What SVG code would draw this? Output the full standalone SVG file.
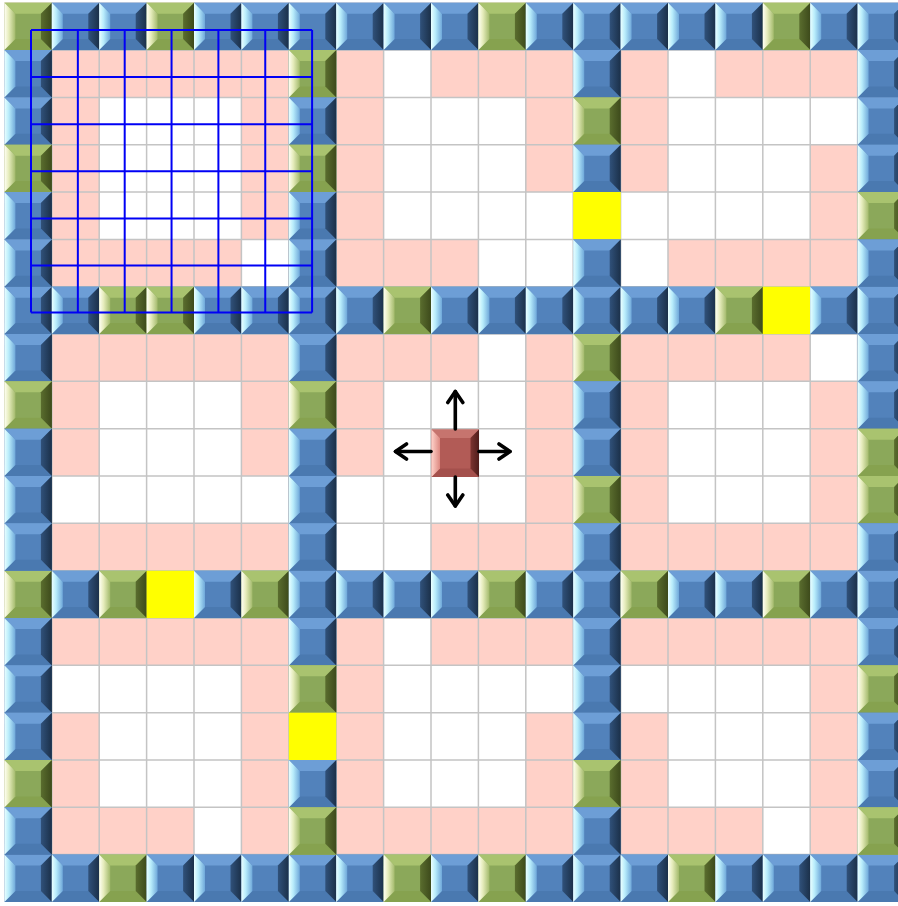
<svg xmlns="http://www.w3.org/2000/svg" width="898" height="906" viewBox="0 0 898 906">
<style>
.grid{fill:none;stroke:#c4c4c4;stroke-width:1.5}
.wh{fill:#ffffff}
.ov{fill:none;stroke:#0000f5;stroke-width:2}
.arr{fill:none;stroke:#000;stroke-width:3.6;stroke-linecap:round;marker-end:url(#ah)}
.yl{fill:#ffff00}
</style>
<defs>
<linearGradient id="gBl" x1="0" y1="0" x2="1" y2="0"><stop offset="0" stop-color="#eaffff"/><stop offset="0.4" stop-color="#b8ecfb"/><stop offset="1" stop-color="#6fa8da"/></linearGradient>
<linearGradient id="gBr" x1="0" y1="0" x2="1" y2="0"><stop offset="0" stop-color="#30517a"/><stop offset="1" stop-color="#1b3049"/></linearGradient>
<linearGradient id="gGl" x1="0" y1="0" x2="1" y2="0"><stop offset="0" stop-color="#fffff4"/><stop offset="0.4" stop-color="#e6ecbc"/><stop offset="1" stop-color="#a3ba6c"/></linearGradient>
<linearGradient id="gGr" x1="0" y1="0" x2="1" y2="0"><stop offset="0" stop-color="#5a6d2e"/><stop offset="1" stop-color="#3d4a1b"/></linearGradient>
<linearGradient id="gRl" x1="0" y1="0" x2="1" y2="0"><stop offset="0" stop-color="#ffd2ca"/><stop offset="1" stop-color="#dc8880"/></linearGradient>
<linearGradient id="gRr" x1="0" y1="0" x2="1" y2="0"><stop offset="0" stop-color="#7c3430"/><stop offset="1" stop-color="#4e1d1b"/></linearGradient>
<g id="tB">
<rect width="47.5" height="47.4" fill="#5282bb"/>
<polygon points="0,0 47.5,0 36.5,11 11,11" fill="#6d9ed6"/>
<polygon points="0,47.4 11,36.4 36.5,36.4 47.5,47.4" fill="#4a79b0"/>
<polygon points="0,0 11,11 11,36.4 0,47.4" fill="url(#gBl)"/>
<polygon points="47.5,0 47.5,47.4 36.5,36.4 36.5,11" fill="url(#gBr)"/>
</g>
<g id="tG">
<rect width="47.5" height="47.4" fill="#8ba85a"/>
<polygon points="0,0 47.5,0 36.5,11 11,11" fill="#a9c36f"/>
<polygon points="0,47.4 11,36.4 36.5,36.4 47.5,47.4" fill="#86a24f"/>
<polygon points="0,0 11,11 11,36.4 0,47.4" fill="url(#gGl)"/>
<polygon points="47.5,0 47.5,47.4 36.5,36.4 36.5,11" fill="url(#gGr)"/>
</g>
<g id="tY"><rect width="47.5" height="47.4" class="yl"/></g>
<marker id="ah" markerUnits="userSpaceOnUse" viewBox="-14 -10 18 20" refX="0" refY="0" markerWidth="18" markerHeight="20" orient="auto">
<path d="M-11,-7.5 L0,0 L-11,7.5" fill="none" stroke="#000" stroke-width="3.6" stroke-linecap="round" stroke-linejoin="round"/>
</marker>
</defs>
<rect x="0" y="0" width="898" height="906" fill="#ffffff"/>
<g id="floor">
<rect x="4.4" y="2.7" width="900" height="899.3" fill="#ffd1c8"/>
<g id="room-top-left">
<rect class="wh" x="99.2" y="97.4" width="142.2" height="142"/>
<rect class="wh" x="241.4" y="239.4" width="47.4" height="47.3"/>
</g>
<g id="room-top-middle">
<rect class="wh" x="383.6" y="50" width="47.4" height="47.4"/>
<rect class="wh" x="383.6" y="97.4" width="142.2" height="94.6"/>
<rect class="wh" x="383.6" y="192" width="189.6" height="47.4"/>
<rect class="wh" x="478.4" y="239.4" width="94.8" height="47.3"/>
</g>
<g id="room-top-right">
<rect class="wh" x="668" y="50" width="47.4" height="47.4"/>
<rect class="wh" x="668" y="97.4" width="189.6" height="47.3"/>
<rect class="wh" x="668" y="144.7" width="142.2" height="47.3"/>
<rect class="wh" x="620.6" y="192" width="189.6" height="47.4"/>
<rect class="wh" x="620.6" y="239.4" width="47.4" height="47.3"/>
</g>
<g id="room-middle-left">
<rect class="wh" x="99.2" y="381.3" width="142.2" height="94.7"/>
<rect class="wh" x="51.8" y="476" width="237" height="47.3"/>
</g>
<g id="room-centre">
<rect class="wh" x="478.4" y="334" width="47.4" height="47.3"/>
<rect class="wh" x="383.6" y="381.3" width="142.2" height="94.7"/>
<rect class="wh" x="336.2" y="476" width="189.6" height="47.3"/>
<rect class="wh" x="336.2" y="523.3" width="94.8" height="47.4"/>
</g>
<g id="room-middle-right">
<rect class="wh" x="810.2" y="334" width="47.4" height="47.3"/>
<rect class="wh" x="668" y="381.3" width="142.2" height="142"/>
</g>
<g id="room-bottom-left">
<rect class="wh" x="51.8" y="665.3" width="189.6" height="47.4"/>
<rect class="wh" x="99.2" y="712.7" width="142.2" height="94.6"/>
<rect class="wh" x="194" y="807.3" width="47.4" height="47.3"/>
</g>
<g id="room-bottom-middle">
<rect class="wh" x="383.6" y="618" width="47.4" height="47.3"/>
<rect class="wh" x="383.6" y="665.3" width="189.6" height="47.4"/>
<rect class="wh" x="383.6" y="712.7" width="142.2" height="94.6"/>
</g>
<g id="room-bottom-right">
<rect class="wh" x="620.6" y="665.3" width="189.6" height="47.4"/>
<rect class="wh" x="668" y="712.7" width="142.2" height="94.6"/>
<rect class="wh" x="762.8" y="807.3" width="47.4" height="47.3"/>
</g>
<path class="grid" d="M51.8,2.7V902M99.2,2.7V902M146.6,2.7V902M194,2.7V902M241.4,2.7V902M288.8,2.7V902M336.2,2.7V902M383.6,2.7V902M431,2.7V902M478.4,2.7V902M525.8,2.7V902M573.2,2.7V902M620.6,2.7V902M668,2.7V902M715.4,2.7V902M762.8,2.7V902M810.2,2.7V902M857.6,2.7V902M4.4,50H898M4.4,97.4H898M4.4,144.7H898M4.4,192H898M4.4,239.4H898M4.4,286.7H898M4.4,334H898M4.4,381.3H898M4.4,428.7H898M4.4,476H898M4.4,523.3H898M4.4,570.7H898M4.4,618H898M4.4,665.3H898M4.4,712.7H898M4.4,760H898M4.4,807.3H898M4.4,854.6H898"/>
</g>
<g id="walls">
<g id="wall-row-0">
<use href="#tG" x="4.4" y="2.7"/><use href="#tB" x="51.8" y="2.7"/><use href="#tB" x="99.2" y="2.7"/><use href="#tG" x="146.6" y="2.7"/><use href="#tB" x="194" y="2.7"/><use href="#tB" x="241.4" y="2.7"/><use href="#tB" x="288.8" y="2.7"/><use href="#tB" x="336.2" y="2.7"/><use href="#tB" x="383.6" y="2.7"/><use href="#tB" x="431" y="2.7"/><use href="#tG" x="478.4" y="2.7"/><use href="#tB" x="525.8" y="2.7"/><use href="#tB" x="573.2" y="2.7"/><use href="#tB" x="620.6" y="2.7"/><use href="#tB" x="668" y="2.7"/><use href="#tB" x="715.4" y="2.7"/><use href="#tG" x="762.8" y="2.7"/><use href="#tB" x="810.2" y="2.7"/><use href="#tB" x="857.6" y="2.7"/>
</g>
<g id="wall-row-6">
<use href="#tB" x="4.4" y="286.7"/><use href="#tB" x="51.8" y="286.7"/><use href="#tG" x="99.2" y="286.7"/><use href="#tG" x="146.6" y="286.7"/><use href="#tB" x="194" y="286.7"/><use href="#tB" x="241.4" y="286.7"/><use href="#tB" x="288.8" y="286.7"/><use href="#tB" x="336.2" y="286.7"/><use href="#tG" x="383.6" y="286.7"/><use href="#tB" x="431" y="286.7"/><use href="#tB" x="478.4" y="286.7"/><use href="#tB" x="525.8" y="286.7"/><use href="#tB" x="573.2" y="286.7"/><use href="#tB" x="620.6" y="286.7"/><use href="#tB" x="668" y="286.7"/><use href="#tG" x="715.4" y="286.7"/><use href="#tY" x="762.8" y="286.7"/><use href="#tB" x="810.2" y="286.7"/><use href="#tB" x="857.6" y="286.7"/>
</g>
<g id="wall-row-12">
<use href="#tG" x="4.4" y="570.7"/><use href="#tB" x="51.8" y="570.7"/><use href="#tG" x="99.2" y="570.7"/><use href="#tY" x="146.6" y="570.7"/><use href="#tB" x="194" y="570.7"/><use href="#tG" x="241.4" y="570.7"/><use href="#tB" x="288.8" y="570.7"/><use href="#tB" x="336.2" y="570.7"/><use href="#tB" x="383.6" y="570.7"/><use href="#tB" x="431" y="570.7"/><use href="#tG" x="478.4" y="570.7"/><use href="#tB" x="525.8" y="570.7"/><use href="#tB" x="573.2" y="570.7"/><use href="#tG" x="620.6" y="570.7"/><use href="#tB" x="668" y="570.7"/><use href="#tB" x="715.4" y="570.7"/><use href="#tG" x="762.8" y="570.7"/><use href="#tB" x="810.2" y="570.7"/><use href="#tB" x="857.6" y="570.7"/>
</g>
<g id="wall-row-18">
<use href="#tB" x="4.4" y="854.6"/><use href="#tB" x="51.8" y="854.6"/><use href="#tG" x="99.2" y="854.6"/><use href="#tB" x="146.6" y="854.6"/><use href="#tB" x="194" y="854.6"/><use href="#tB" x="241.4" y="854.6"/><use href="#tB" x="288.8" y="854.6"/><use href="#tB" x="336.2" y="854.6"/><use href="#tG" x="383.6" y="854.6"/><use href="#tB" x="431" y="854.6"/><use href="#tG" x="478.4" y="854.6"/><use href="#tB" x="525.8" y="854.6"/><use href="#tB" x="573.2" y="854.6"/><use href="#tB" x="620.6" y="854.6"/><use href="#tG" x="668" y="854.6"/><use href="#tB" x="715.4" y="854.6"/><use href="#tB" x="762.8" y="854.6"/><use href="#tB" x="810.2" y="854.6"/><use href="#tB" x="857.6" y="854.6"/>
</g>
<g id="wall-col-0">
<use href="#tB" x="4.4" y="50"/><use href="#tB" x="4.4" y="97.4"/><use href="#tG" x="4.4" y="144.7"/><use href="#tB" x="4.4" y="192"/><use href="#tB" x="4.4" y="239.4"/><use href="#tB" x="4.4" y="334"/><use href="#tG" x="4.4" y="381.3"/><use href="#tB" x="4.4" y="428.7"/><use href="#tB" x="4.4" y="476"/><use href="#tB" x="4.4" y="523.3"/><use href="#tB" x="4.4" y="618"/><use href="#tB" x="4.4" y="665.3"/><use href="#tB" x="4.4" y="712.7"/><use href="#tG" x="4.4" y="760"/><use href="#tB" x="4.4" y="807.3"/>
</g>
<g id="wall-col-6">
<use href="#tG" x="288.8" y="50"/><use href="#tB" x="288.8" y="97.4"/><use href="#tG" x="288.8" y="144.7"/><use href="#tB" x="288.8" y="192"/><use href="#tB" x="288.8" y="239.4"/><use href="#tB" x="288.8" y="334"/><use href="#tG" x="288.8" y="381.3"/><use href="#tB" x="288.8" y="428.7"/><use href="#tB" x="288.8" y="476"/><use href="#tB" x="288.8" y="523.3"/><use href="#tB" x="288.8" y="618"/><use href="#tG" x="288.8" y="665.3"/><use href="#tY" x="288.8" y="712.7"/><use href="#tB" x="288.8" y="760"/><use href="#tG" x="288.8" y="807.3"/>
</g>
<g id="wall-col-12">
<use href="#tB" x="573.2" y="50"/><use href="#tG" x="573.2" y="97.4"/><use href="#tB" x="573.2" y="144.7"/><use href="#tY" x="573.2" y="192"/><use href="#tB" x="573.2" y="239.4"/><use href="#tG" x="573.2" y="334"/><use href="#tB" x="573.2" y="381.3"/><use href="#tB" x="573.2" y="428.7"/><use href="#tG" x="573.2" y="476"/><use href="#tB" x="573.2" y="523.3"/><use href="#tB" x="573.2" y="618"/><use href="#tB" x="573.2" y="665.3"/><use href="#tB" x="573.2" y="712.7"/><use href="#tG" x="573.2" y="760"/><use href="#tB" x="573.2" y="807.3"/>
</g>
<g id="wall-col-18">
<use href="#tB" x="857.6" y="50"/><use href="#tB" x="857.6" y="97.4"/><use href="#tB" x="857.6" y="144.7"/><use href="#tG" x="857.6" y="192"/><use href="#tB" x="857.6" y="239.4"/><use href="#tB" x="857.6" y="334"/><use href="#tB" x="857.6" y="381.3"/><use href="#tG" x="857.6" y="428.7"/><use href="#tG" x="857.6" y="476"/><use href="#tB" x="857.6" y="523.3"/><use href="#tB" x="857.6" y="618"/><use href="#tG" x="857.6" y="665.3"/><use href="#tB" x="857.6" y="712.7"/><use href="#tB" x="857.6" y="760"/><use href="#tG" x="857.6" y="807.3"/>
</g>
</g>
<g id="overlay-grid">
<path class="ov" d="M31,30V312.6M77.85,30V312.6M124.7,30V312.6M171.55,30V312.6M218.4,30V312.6M265.25,30V312.6M312.1,30V312.6M31,30H312.1M31,77.1H312.1M31,124.2H312.1M31,171.3H312.1M31,218.4H312.1M31,265.5H312.1M31,312.6H312.1"/>
</g>
<g id="agent" transform="translate(431.5,429.5)">
<rect width="47.5" height="47.4" fill="#b25b56"/>
<polygon points="0,0 47.5,0 39,8.5 8.5,8.5" fill="#c6746e"/>
<polygon points="0,47.4 8.5,38.9 39,38.9 47.5,47.4" fill="#a4504c"/>
<polygon points="0,0 8.5,8.5 8.5,38.9 0,47.4" fill="url(#gRl)"/>
<polygon points="47.5,0 47.5,47.4 39,38.9 39,8.5" fill="url(#gRr)"/>
</g>
<g id="moves">
<line class="arr" x1="455.3" y1="429" x2="455.3" y2="391.5"/>
<line class="arr" x1="455.3" y1="477" x2="455.3" y2="506"/>
<line class="arr" x1="431" y1="451.5" x2="395.5" y2="451.5"/>
<line class="arr" x1="479" y1="451.5" x2="510" y2="451.5"/>
</g>
</svg>
